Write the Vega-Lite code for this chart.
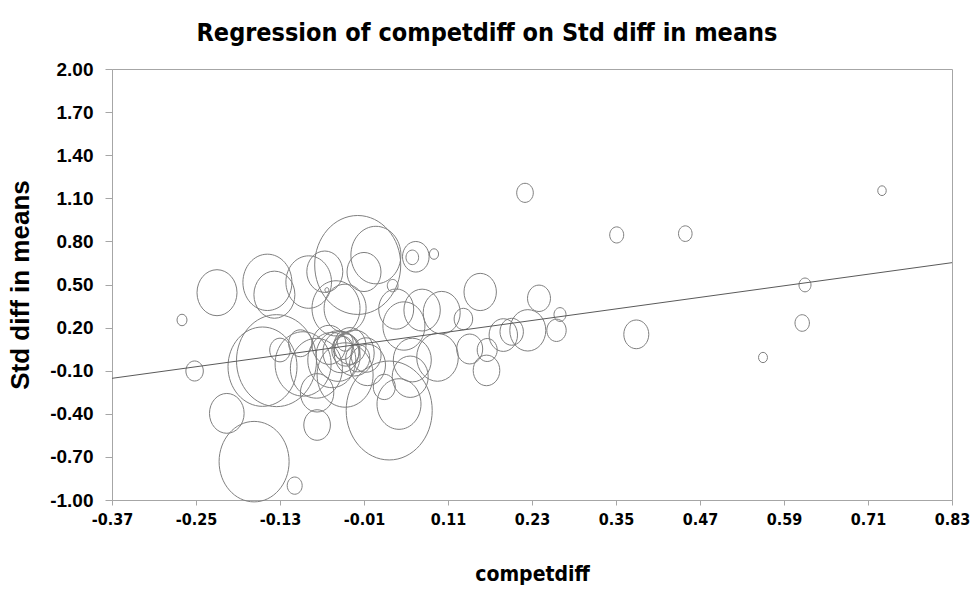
{
  "$schema": "https://vega.github.io/schema/vega-lite/v6.json",
  "width": 840,
  "height": 431,
  "autosize": {"type": "none"},
  "padding": {"left": 112, "top": 69, "right": 23, "bottom": 93},
  "background": "white",
  "config": {
    "locale": {"number": {"decimal": ".", "thousands": ",", "grouping": [3], "currency": ["$", ""], "minus": "-"}},
    "view": {"stroke": "#a6a6a6", "strokeWidth": 1},
    "axis": {"grid": false, "domainColor": "#a6a6a6", "tickColor": "#a6a6a6", "labelColor": "#000", "titleColor": "#000"}
  },
  "title": {
    "text": "Regression of competdiff on Std diff in means",
    "font": "DejaVu Sans Condensed, Liberation Sans",
    "fontSize": 25,
    "fontWeight": "bold",
    "color": "#000",
    "anchor": "middle",
    "dx": -45,
    "offset": 14
  },
  "datasets": {
    "studies": [
      {"x": -0.270, "y": 0.253, "w": 25},
      {"x": -0.252, "y": -0.102, "w": 76},
      {"x": -0.220, "y": 0.443, "w": 400},
      {"x": -0.206, "y": -0.397, "w": 300},
      {"x": -0.167, "y": -0.733, "w": 1225},
      {"x": -0.109, "y": -0.900, "w": 56},
      {"x": -0.148, "y": 0.515, "w": 600},
      {"x": -0.138, "y": 0.429, "w": 420},
      {"x": -0.089, "y": 0.517, "w": 520},
      {"x": -0.066, "y": 0.589, "w": 324},
      {"x": -0.019, "y": 0.636, "w": 1850},
      {"x": -0.010, "y": 0.587, "w": 289},
      {"x": 0.007, "y": 0.705, "w": 625},
      {"x": 0.064, "y": 0.693, "w": 177},
      {"x": 0.059, "y": 0.689, "w": 40},
      {"x": 0.090, "y": 0.712, "w": 21},
      {"x": -0.050, "y": 0.334, "w": 576},
      {"x": -0.037, "y": 0.334, "w": 441},
      {"x": 0.031, "y": 0.492, "w": 29},
      {"x": -0.063, "y": 0.462, "w": 4},
      {"x": 0.036, "y": 0.329, "w": 306},
      {"x": 0.073, "y": 0.322, "w": 331},
      {"x": 0.101, "y": 0.304, "w": 342},
      {"x": 0.132, "y": 0.260, "w": 86},
      {"x": 0.156, "y": 0.448, "w": 262},
      {"x": 0.047, "y": 0.211, "w": 441},
      {"x": 0.059, "y": -0.026, "w": 361},
      {"x": 0.095, "y": -0.007, "w": 433},
      {"x": 0.141, "y": 0.051, "w": 169},
      {"x": 0.166, "y": 0.044, "w": 100},
      {"x": 0.165, "y": -0.098, "w": 177},
      {"x": 0.040, "y": -0.332, "w": 484},
      {"x": 0.026, "y": -0.377, "w": 1850},
      {"x": 0.019, "y": -0.213, "w": 121},
      {"x": 0.056, "y": -0.142, "w": 324},
      {"x": -0.077, "y": -0.478, "w": 177},
      {"x": -0.077, "y": -0.254, "w": 279},
      {"x": -0.155, "y": -0.072, "w": 1190},
      {"x": -0.135, "y": -0.030, "w": 1600},
      {"x": -0.130, "y": 0.044, "w": 106},
      {"x": -0.101, "y": 0.091, "w": 137},
      {"x": -0.097, "y": -0.053, "w": 784},
      {"x": -0.078, "y": -0.083, "w": 676},
      {"x": 0.220, "y": 1.138, "w": 69},
      {"x": 0.240, "y": 0.404, "w": 132},
      {"x": 0.270, "y": 0.291, "w": 36},
      {"x": 0.265, "y": 0.181, "w": 94},
      {"x": 0.224, "y": 0.181, "w": 324},
      {"x": 0.201, "y": 0.171, "w": 137},
      {"x": 0.189, "y": 0.148, "w": 202},
      {"x": 0.351, "y": 0.845, "w": 49},
      {"x": 0.449, "y": 0.854, "w": 46},
      {"x": 0.379, "y": 0.153, "w": 156},
      {"x": 0.560, "y": -0.008, "w": 20},
      {"x": 0.730, "y": 1.153, "w": 18},
      {"x": 0.620, "y": 0.497, "w": 36},
      {"x": 0.616, "y": 0.232, "w": 52},
      {"x": -0.040, "y": 0.058, "w": 100},
      {"x": -0.036, "y": 0.044, "w": 196},
      {"x": -0.043, "y": 0.030, "w": 324},
      {"x": -0.030, "y": 0.072, "w": 256},
      {"x": -0.047, "y": 0.002, "w": 484},
      {"x": -0.024, "y": 0.023, "w": 400},
      {"x": -0.019, "y": -0.012, "w": 144},
      {"x": -0.037, "y": 0.100, "w": 64},
      {"x": -0.056, "y": -0.026, "w": 576},
      {"x": -0.007, "y": 0.009, "w": 225},
      {"x": -0.037, "y": -0.130, "w": 784},
      {"x": -0.005, "y": -0.060, "w": 324},
      {"x": -0.060, "y": 0.080, "w": 289}
    ],
    "fit": [
      {"x": -0.37, "y": -0.153},
      {"x": 0.83, "y": 0.652}
    ]
  },
  "layer": [
    {
      "data": {"name": "studies"},
      "mark": {
        "type": "point",
        "shape": "M-1,0A1,1.15,0,1,0,1,0A1,1.15,0,1,0,-1,0Z",
        "filled": false,
        "stroke": "#7f7f7f",
        "strokeWidth": 1,
        "opacity": 1
      },
      "encoding": {
        "x": {
          "field": "x", "type": "quantitative",
          "scale": {"domain": [-0.37, 0.83], "nice": false, "zero": false},
          "axis": {
            "values": [-0.37, -0.25, -0.13, -0.01, 0.11, 0.23, 0.35, 0.47, 0.59, 0.71, 0.83],
            "format": ".2f",
            "title": "competdiff",
            "labelFont": "DejaVu Sans Condensed, Liberation Sans",
            "labelFontSize": 16,
            "labelFontWeight": "bold",
            "labelPadding": 6,
            "labelFlush": false,
            "labelOverlap": false,
            "tickSize": 5,
            "titleFont": "DejaVu Sans Condensed, Liberation Sans",
            "titleFontSize": 21,
            "titleFontWeight": "bold",
            "titlePadding": 36
          }
        },
        "y": {
          "field": "y", "type": "quantitative",
          "scale": {"domain": [-1, 2], "nice": false, "zero": false},
          "axis": {
            "values": [-1, -0.7, -0.4, -0.1, 0.2, 0.5, 0.8, 1.1, 1.4, 1.7, 2],
            "format": ".2f",
            "title": "Std diff in means",
            "labelFont": "Liberation Sans",
            "labelFontSize": 19,
            "labelFontWeight": "bold",
            "labelPadding": 12,
            "labelFlush": false,
            "labelOverlap": false,
            "tickSize": 7,
            "titleFont": "Liberation Sans",
            "titleFontSize": 26,
            "titleFontWeight": "bold",
            "titlePadding": 16
          }
        },
        "size": {
          "field": "w", "type": "quantitative",
          "scale": {"type": "linear", "domain": [0, 100], "range": [0, 400], "zero": true},
          "legend": null
        }
      }
    },
    {
      "data": {"name": "fit"},
      "mark": {"type": "line", "stroke": "#5a5a5a", "strokeWidth": 1},
      "encoding": {
        "x": {"field": "x", "type": "quantitative"},
        "y": {"field": "y", "type": "quantitative"}
      }
    }
  ]
}
